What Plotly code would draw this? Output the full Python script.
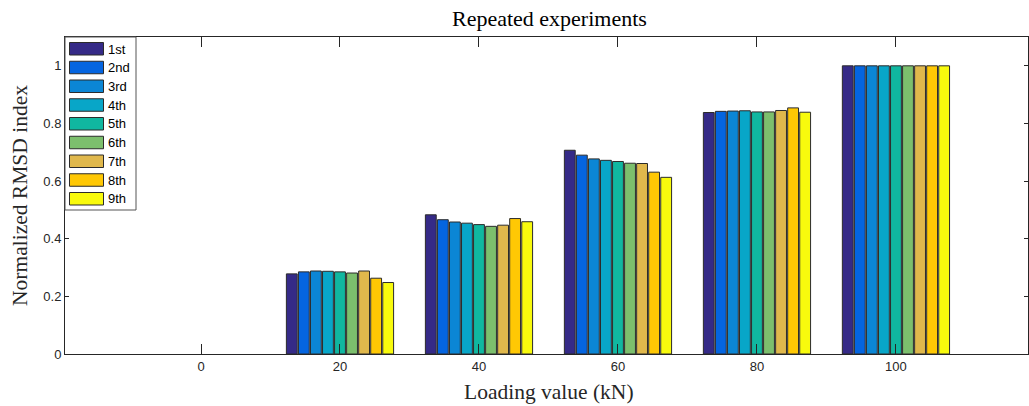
import plotly.graph_objects as go

# ---- data ----
loads = [0, 20, 40, 60, 80, 100]
series_names = ["1st", "2nd", "3rd", "4th", "5th", "6th", "7th", "8th", "9th"]
v1st = [0, 0.278, 0.483, 0.707, 0.838, 1.0]
v2nd = [0, 0.285, 0.466, 0.690, 0.842, 1.0]
v3rd = [0, 0.288, 0.458, 0.677, 0.843, 1.0]
v4th = [0, 0.287, 0.454, 0.672, 0.844, 1.0]
v5th = [0, 0.285, 0.449, 0.668, 0.840, 1.0]
v6th = [0, 0.281, 0.443, 0.662, 0.840, 1.0]
v7th = [0, 0.288, 0.447, 0.661, 0.845, 1.0]
v8th = [0, 0.263, 0.470, 0.631, 0.854, 1.0]
v9th = [0, 0.248, 0.459, 0.613, 0.839, 1.0]
series_values = [v1st, v2nd, v3rd, v4th, v5th, v6th, v7th, v8th, v9th]
colors = ["#352a87", "#0565e0", "#0b86d5", "#08a6c8", "#10b7a0",
          "#7cbf6d", "#e0b84c", "#ffc804", "#f8fa0d"]
y_ticks = [0, 0.2, 0.4, 0.6, 0.8, 1]
y_ticklabels = ["0", "0.2", "0.4", "0.6", "0.8", "1"]

# ---- layout geometry (pixels) ----
W, H = 1029, 406
PL, PR, PT, PB = 65, 1028, 37, 354
axc = "#262626"


def px(x):
    return (x - PL) / (PR - PL)


def py(y):
    return (PB - y) / (PB - PT)


fig = go.Figure()
for name, vals, c in zip(series_names, series_values, colors):
    fig.add_trace(go.Bar(
        x=loads, y=vals, name=name,
        marker=dict(color=c, line=dict(color="#2b2b2b",
                                       width=[1 if v > 0 else 0 for v in vals])),
        showlegend=False,
    ))

# ---- custom legend (MATLAB style wide swatches) ----
shapes = [dict(type="rect", xref="paper", yref="paper",
               x0=px(65), x1=px(136), y0=py(210), y1=py(37),
               fillcolor="white", line=dict(color="#555555", width=1), layer="above")]
annotations = []
for i, (name, c) in enumerate(zip(series_names, colors)):
    top = 42.5 + i * 18.75
    shapes.append(dict(type="rect", xref="paper", yref="paper",
                       x0=px(69.5), x1=px(103.5), y0=py(top + 12.5), y1=py(top),
                       fillcolor=c, line=dict(color="#2b2b2b", width=1), layer="above"))
    annotations.append(dict(xref="paper", yref="paper", x=px(105.5), y=py(top + 6.5),
                            text=name, showarrow=False, xanchor="left", yanchor="middle",
                            font=dict(family="Liberation Sans, Arial", size=13, color="#000000")))

# titles as annotations
annotations.append(dict(xref="paper", yref="paper", x=px(549), y=py(19), text="Repeated experiments",
                        showarrow=False, xanchor="center", yanchor="middle",
                        font=dict(family="Liberation Serif, Times New Roman", size=22, color="#000000")))
annotations.append(dict(xref="paper", yref="paper", x=px(549), y=py(392), text="Loading value (kN)",
                        showarrow=False, xanchor="center", yanchor="middle",
                        font=dict(family="Liberation Serif, Times New Roman", size=21.5, color="#262626")))
annotations.append(dict(xref="paper", yref="paper", x=px(20), y=py(196), text="Normalized RMSD index",
                        showarrow=False, xanchor="center", yanchor="middle", textangle=-90,
                        font=dict(family="Liberation Serif, Times New Roman", size=21.5, color="#262626")))

fig.update_layout(
    width=W, height=H,
    margin=dict(l=PL, r=W - PR, t=PT, b=H - PB, pad=0),
    paper_bgcolor="white", plot_bgcolor="white",
    barmode="group", bargap=0.22, bargroupgap=0.1,
    shapes=shapes, annotations=annotations,
    showlegend=False,
    xaxis=dict(range=[-19.57, 119.0], tickvals=loads, ticktext=[str(v) for v in loads],
               ticks="inside", ticklen=10, tickwidth=1, tickcolor=axc,
               showline=True, linecolor=axc, linewidth=1, mirror="ticks",
               showgrid=False, zeroline=False,
               tickfont=dict(family="Liberation Sans, Arial", size=13, color=axc)),
    yaxis=dict(range=[0, 1.1], tickvals=y_ticks, ticktext=y_ticklabels,
               ticks="inside", ticklen=4, tickwidth=1, tickcolor=axc,
               showline=True, linecolor=axc, linewidth=1, mirror="ticks",
               showgrid=False, zeroline=False,
               tickfont=dict(family="Liberation Sans, Arial", size=13, color=axc)),
)

fig.write_html("out.html", config={"displayModeBar": False},
               post_script="document.body.style.margin='0';document.body.style.padding='0';")
